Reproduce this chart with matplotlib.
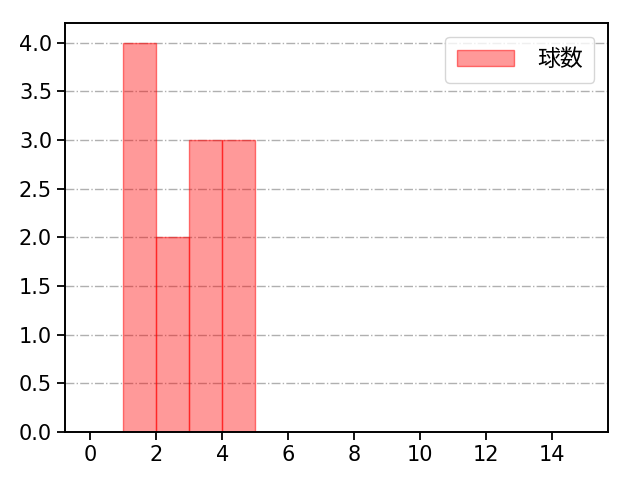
import matplotlib
matplotlib.use('Agg')
import matplotlib.pyplot as plt

plt.rcParams['font.family'] = ['DejaVu Sans', 'Noto Sans CJK JP']

bin_edges = [1, 2, 3, 4, 5]
counts = [4, 2, 3, 3]
label = '球数'

fig, ax = plt.subplots(figsize=(6.4, 4.8), dpi=100)
fig.subplots_adjust(left=0.102, right=0.95, top=0.952, bottom=0.1)

ax.hist(bin_edges[:-1], bins=bin_edges, weights=counts,
        facecolor=(1, 0, 0, 0.4), edgecolor=(1, 0, 0, 0.5), linewidth=1,
        label=label)

ax.set_xlim(-0.76, 15.7)
ax.set_ylim(0, 4.2)
ax.set_xticks(range(0, 15, 2))
ax.set_yticks([i * 0.5 for i in range(9)])
ax.yaxis.set_major_formatter(matplotlib.ticker.FormatStrFormatter('%.1f'))
ax.tick_params(labelsize=15, width=1.3, length=6)
ax.grid(axis='y', linestyle='-.', color='#b0b0b0', linewidth=1)
ax.set_axisbelow(True)
for s in ax.spines.values():
    s.set_linewidth(1.4)

ax.legend(loc='upper right', fontsize=16.5, handlelength=2.5, handletextpad=1.0,
          borderpad=0.5, borderaxespad=0.6)

fig.savefig('out.png')
